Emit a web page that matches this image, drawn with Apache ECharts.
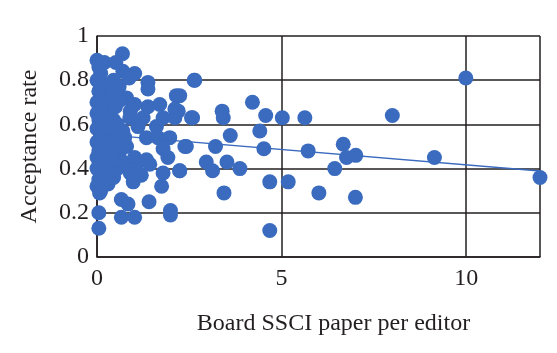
<!DOCTYPE html>
<html>
<head>
<meta charset="utf-8">
<script src="https://cdn.jsdelivr.net/npm/echarts@6/dist/echarts.min.js"></script>
<style>
  html, body { margin: 0; padding: 0; background: #fff; }
  #main { width: 557px; height: 353px; }
</style>
</head>
<body>
<div id="main"></div>
<script type="text/javascript">
// board SSCI papers per editor vs acceptance rate
var paperPerEditor = [
  0, 0.05, 0.1, 0, 0.2, 0.05, 0.15, 0, 0.3, 0.1, 0, 0.25, 0.05, 0.15, 0, 0.35, 0.1, 0, 0.2, 0.05,
  0, 0.25, 0.1, 0, 0.15, 0.05, 0.3, 0, 0.1, 0.45, 0.4, 0.5, 0.45, 0.55, 0.5, 0.6, 0.55, 0.45, 0.2, 0.7,
  0.6, 0.8, 0.9, 0.8, 0.7, 0.9, 0.05, 0.05, 0.07,
  0.69, 0.51, 1.02, 0.87, 1.38, 1.38, 2.15, 2.63, 1.02, 0.62, 1.70, 2.11, 1.38, 0.89, 1.25, 1.79, 2.11, 2.56,
  0.34, 0.70, 1.11, 1.61, 0.75, 1.34, 1.65, 1.97, 2.38, 0.21, 0.43, 1.79, 1.92, 1.02, 1.34, 0.39, 1.07, 1.43,
  2.24, 0.30, 0.98, 1.20, 1.79, 1.75, 0.66, 0.84, 1.41, 0.66, 1.02, 1.99, 1.99,
  2.65, 2.24, 2.2, 2.59, 3.39, 3.42, 4.21, 4.57, 5.02, 5.63, 3.61, 4.41, 2.42, 3.21, 4.52, 5.72, 6.67, 6.76,
  7.01, 2.96, 3.13, 3.52, 3.87, 2.24, 6.44, 4.68, 5.18, 3.44, 6.01, 7.00, 4.68,
  9.99, 8.0, 9.14, 12.0
];
var acceptanceRate = [
  0.89, 0.86, 0.83, 0.80, 0.78, 0.75, 0.73, 0.70, 0.70, 0.67, 0.65, 0.64, 0.62, 0.60, 0.58, 0.57, 0.55, 0.52, 0.50, 0.48,
  0.45, 0.44, 0.42, 0.40, 0.37, 0.35, 0.33, 0.32, 0.30, 0.80, 0.75, 0.68, 0.62, 0.60, 0.50, 0.47, 0.40, 0.36, 0.88, 0.84,
  0.77, 0.72, 0.66, 0.50, 0.43, 0.38, 0.20, 0.13, 0.29,
  0.92, 0.88, 0.83, 0.81, 0.79, 0.76, 0.73, 0.80, 0.69, 0.71, 0.69, 0.67, 0.68, 0.63, 0.63, 0.63, 0.63, 0.63,
  0.59, 0.57, 0.59, 0.59, 0.54, 0.54, 0.54, 0.54, 0.50, 0.51, 0.53, 0.49, 0.45, 0.45, 0.44, 0.46, 0.42, 0.42,
  0.39, 0.39, 0.34, 0.37, 0.38, 0.32, 0.26, 0.24, 0.25, 0.18, 0.18, 0.21, 0.19,
  0.80, 0.73, 0.66, 0.63, 0.66, 0.63, 0.70, 0.64, 0.63, 0.63, 0.55, 0.57, 0.50, 0.50, 0.49, 0.48, 0.51, 0.45,
  0.46, 0.43, 0.39, 0.43, 0.40, 0.39, 0.40, 0.34, 0.34, 0.29, 0.29, 0.27, 0.12,
  0.81, 0.64, 0.45, 0.36
];
// linear trend end points
var trendX = [0, 12];
var trendY = [0.556, 0.389];

var points = paperPerEditor.map(function (x, i) { return [x, acceptanceRate[i]]; });
var trend = trendX.map(function (x, i) { return [x, trendY[i]]; });

var myChart = echarts.init(document.getElementById('main'));
var gridLine = { show: true, lineStyle: { color: '#231f20', width: 1.5 } };
var serif = 'Liberation Serif, Times New Roman, serif';

var option = {
  animation: false,
  grid: { left: 97, right: 17, top: 36, bottom: 96 },
  xAxis: {
    type: 'value',
    min: 0,
    max: 12,
    interval: 5,
    name: 'Board SSCI paper per editor',
    nameLocation: 'middle',
    nameGap: 55,
    nameTextStyle: { fontFamily: serif, fontSize: 24, color: '#231f20', padding: [0, 0, 0, 30] },
    axisLine: { show: true, lineStyle: { color: '#231f20', width: 1.5 } },
    axisTick: { show: false },
    splitLine: gridLine,
    axisLabel: { showMaxLabel: false, fontFamily: serif, fontSize: 24, color: '#231f20', margin: 10 }
  },
  yAxis: {
    type: 'value',
    min: 0,
    max: 1,
    interval: 0.2,
    name: 'Acceptance rate',
    nameLocation: 'middle',
    nameGap: 55,
    nameTextStyle: { fontFamily: serif, fontSize: 24, color: '#231f20' },
    axisLine: { show: true, lineStyle: { color: '#231f20', width: 1.5 } },
    axisTick: { show: false },
    splitLine: gridLine,
    axisLabel: { fontFamily: serif, fontSize: 24, color: '#231f20', margin: 8 }
  },
  series: [
    {
      name: 'data',
      type: 'scatter',
      symbol: 'circle',
      symbolSize: 15,
      itemStyle: { color: '#3a6bbe', opacity: 1 },
      data: points
    },
    {
      name: 'trend',
      type: 'line',
      symbol: 'none',
      z: 3,
      lineStyle: { color: '#3a6bbe', width: 1.5 },
      data: trend
    }
  ]
};
myChart.setOption(option);
</script>
</body>
</html>
